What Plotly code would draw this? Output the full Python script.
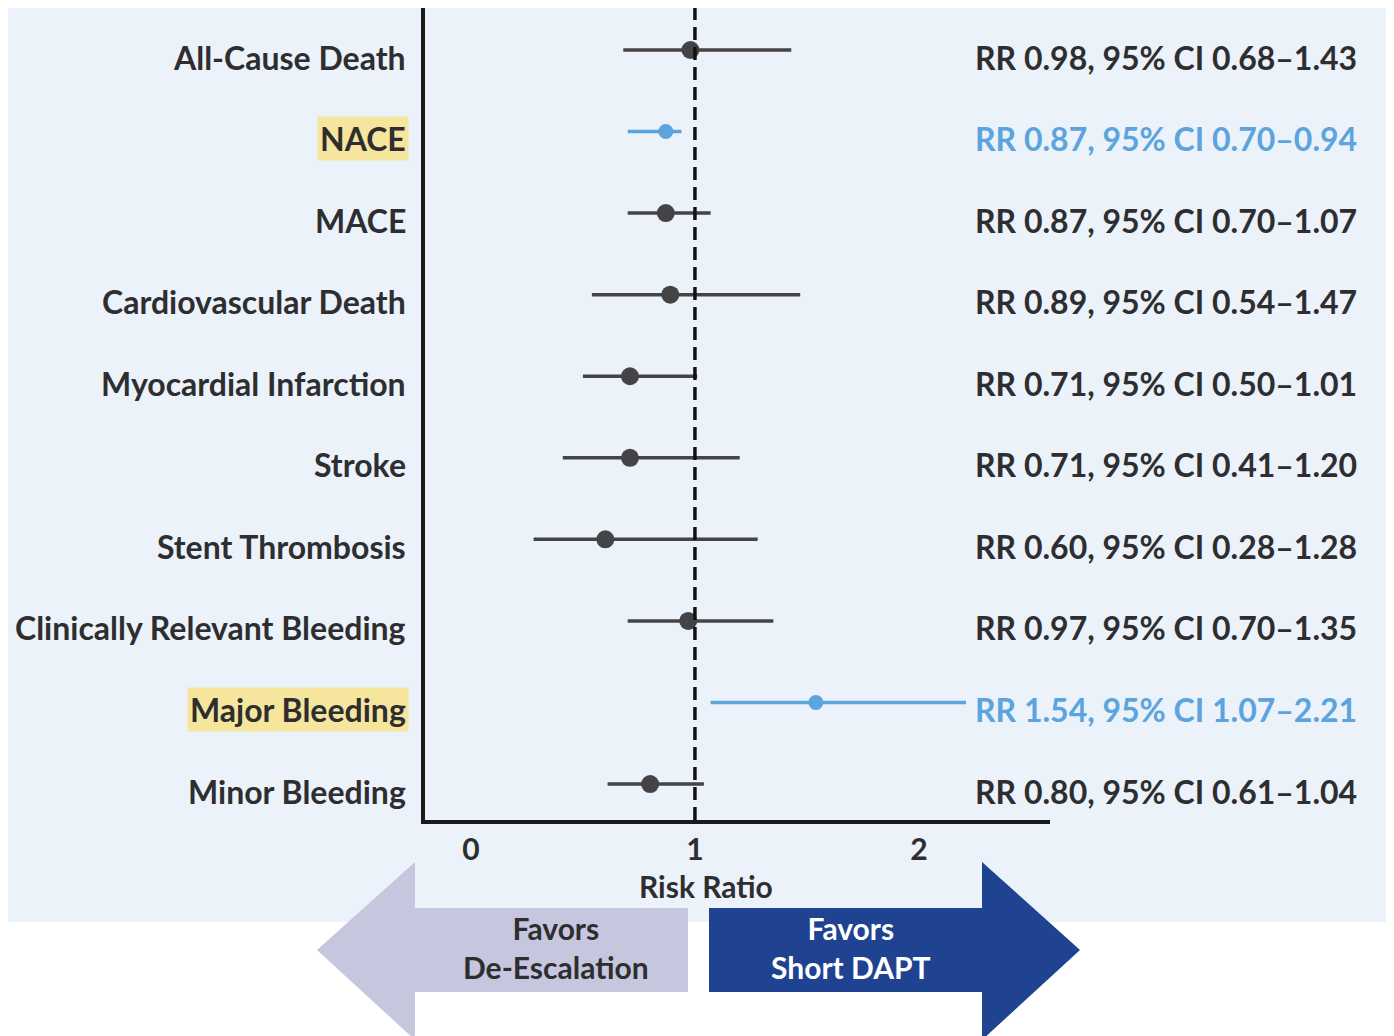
import plotly.graph_objects as go

labels = ["All-Cause Death", "NACE", "MACE", "Cardiovascular Death", "Myocardial Infarction",
          "Stroke", "Stent Thrombosis", "Clinically Relevant Bleeding", "Major Bleeding", "Minor Bleeding"]
rr = [0.98, 0.87, 0.87, 0.89, 0.71, 0.71, 0.60, 0.97, 1.54, 0.80]
ci_lo = [0.68, 0.70, 0.70, 0.54, 0.50, 0.41, 0.28, 0.70, 1.07, 0.61]
ci_hi = [1.43, 0.94, 1.07, 1.47, 1.01, 1.20, 1.28, 1.35, 2.21, 1.04]
highlight = [False, True, False, False, False, False, False, False, True, False]
x_ticks = [0, 1, 2]

FONT = "Lato, Roboto, sans-serif"
DARK = "#2e2e30"
GRAY = "#444446"
BLUE = "#5ba4dd"
PANEL = "#ebf2fa"
YELLOW = "#f6e59c"

OFF = 8  # page body margin offset
W, H = 1394 - OFF, 1036 - OFF
L, R, T, B = 425 - OFF, 344, 0, 216
pw, ph = W - L - R, H - T - B


def px(x):
    return (x - OFF - L) / pw


def py(y):
    return (H - B - (y - OFF)) / ph


fig = go.Figure()
ys = list(range(len(labels)))
for flag, col, msize in [(False, GRAY, 18), (True, BLUE, 15)]:
    idx = [i for i in ys if highlight[i] == flag]
    fig.add_trace(go.Scatter(
        x=[rr[i] for i in idx], y=[ys[i] for i in idx], mode="markers",
        marker=dict(color=col, size=msize),
        error_x=dict(type="data", symmetric=False,
                     array=[ci_hi[i] - rr[i] for i in idx],
                     arrayminus=[rr[i] - ci_lo[i] for i in idx],
                     color=col, thickness=3.5, width=0),
        showlegend=False, hoverinfo="skip"))

shapes = []
shapes.append(dict(type="rect", xref="paper", yref="paper", x0=px(0), x1=px(1386), y0=py(922), y1=py(-5),
                   fillcolor=PANEL, line=dict(width=0), layer="below"))
shapes.append(dict(type="line", xref="x", yref="paper", x0=1, x1=1, y0=0, y1=1,
                   line=dict(color="#111111", width=3.5, dash="13px,7px"), layer="above"))


def poly(pts):
    return "M " + " L ".join(f"{px(a):.5f},{py(b):.5f}" for a, b in pts) + " Z"


left_arrow = [(317, 950), (415, 862), (415, 908), (688, 908), (688, 992), (415, 992), (415, 1040)]
right_arrow = [(709, 908), (982, 908), (982, 862), (1080, 950), (982, 1040), (982, 992), (709, 992)]
shapes.append(dict(type="path", xref="paper", yref="paper", path=poly(left_arrow),
                   fillcolor="#c6c6de", line=dict(width=0), layer="below"))
shapes.append(dict(type="path", xref="paper", yref="paper", path=poly(right_arrow),
                   fillcolor="#1f4390", line=dict(width=0), layer="below"))

annotations = []
for i, lab in enumerate(labels):
    annotations.append(dict(
        x=px(409), y=ys[i], xref="paper", yref="y", xanchor="right", yanchor="middle", yshift=-7,
        text=f"<b>{lab}</b>", showarrow=False,
        font=dict(family=FONT, size=32, color=DARK),
        bgcolor=YELLOW if highlight[i] else None, borderpad=2))
    annotations.append(dict(
        x=px(973), y=ys[i], xref="paper", yref="y", xanchor="left", yanchor="middle", yshift=-7,
        text=f"<b>RR {rr[i]:.2f}, 95% CI {ci_lo[i]:.2f}\u2013{ci_hi[i]:.2f}</b>", showarrow=False,
        font=dict(family=FONT, size=32, color=BLUE if highlight[i] else DARK)))

annotations.append(dict(x=px(706), y=py(886), xref="paper", yref="paper", text="<b>Risk Ratio</b>",
                        showarrow=False, font=dict(family=FONT, size=30, color=DARK),
                        xanchor="center", yanchor="middle"))
annotations.append(dict(x=px(556), y=py(947), xref="paper", yref="paper",
                        text="<b>Favors<br>De-Escalation</b>", showarrow=False,
                        font=dict(family=FONT, size=30, color=DARK),
                        xanchor="center", yanchor="middle"))
annotations.append(dict(x=px(851), y=py(947), xref="paper", yref="paper",
                        text="<b>Favors<br>Short DAPT</b>", showarrow=False,
                        font=dict(family=FONT, size=30, color="white"),
                        xanchor="center", yanchor="middle"))

fig.update_layout(
    width=W, height=H, margin=dict(l=L, r=R, t=T, b=B, pad=0),
    paper_bgcolor="white", plot_bgcolor="rgba(0,0,0,0)",
    shapes=shapes, annotations=annotations,
    xaxis=dict(range=[-0.205, 2.585], tickvals=x_ticks, ticktext=[f"<b>{v}</b>" for v in x_ticks],
               showgrid=False, zeroline=False, showline=True, linecolor="#1a1a1a", linewidth=3.5,
               ticks="", tickfont=dict(family=FONT, size=30, color=DARK)),
    yaxis=dict(range=[9.441, -0.515], showticklabels=False, showgrid=False, zeroline=False,
               showline=True, linecolor="#1a1a1a", linewidth=3.5, ticks=""),
)

fig.write_html("out.html")
